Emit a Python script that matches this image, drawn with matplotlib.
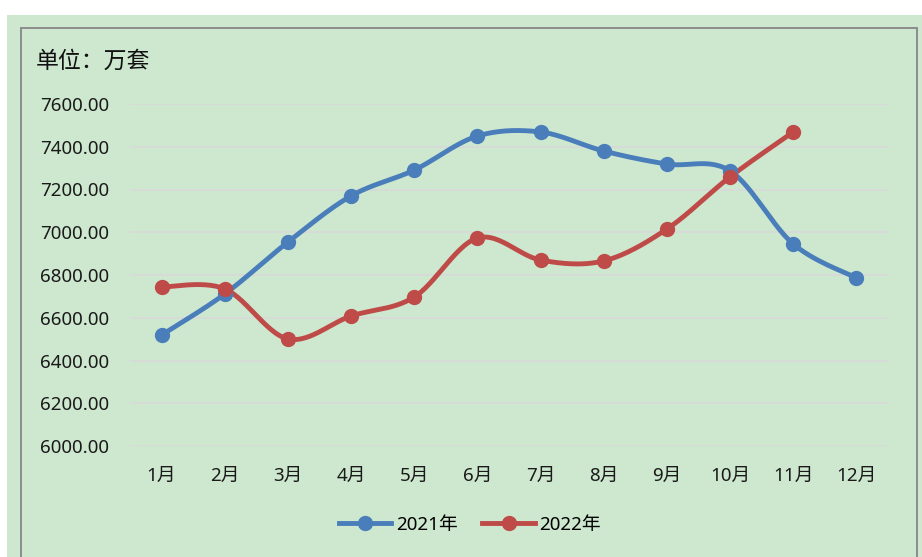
import matplotlib
matplotlib.use("Agg")
import matplotlib.pyplot as plt
import numpy as np
from matplotlib.patches import Rectangle

FAM = ['Noto Sans', 'Noto Sans CJK SC', 'DejaVu Sans']
plt.rcParams['font.family'] = FAM

months = ['1月', '2月', '3月', '4月', '5月', '6月', '7月', '8月', '9月', '10月', '11月', '12月']
s2021 = [6519, 6711, 6954, 7170, 7291, 7450, 7469, 7380, 7319, 7287, 6945, 6786]
s2022 = [6744, 6735, 6501, 6608, 6697, 6973, 6870, 6866, 7015, 7259, 7469]
yticks = [6000, 6200, 6400, 6600, 6800, 7000, 7200, 7400, 7600]

c2021 = '#4a7ebb'
c2022 = '#be4b48'
bg = '#cde8cf'


def smooth(xs, ys, n=30):
    # Excel-like smoothing: cubic Bezier segments with Catmull-Rom control points
    xs = np.asarray(xs, float)
    ys = np.asarray(ys, float)
    px, py = [], []
    m = len(xs)
    for i in range(m - 1):
        x0, y0 = (xs[i - 1], ys[i - 1]) if i > 0 else (xs[i], ys[i])
        x1, y1 = xs[i], ys[i]
        x2, y2 = xs[i + 1], ys[i + 1]
        x3, y3 = (xs[i + 2], ys[i + 2]) if i + 2 < m else (xs[i + 1], ys[i + 1])
        c1x, c1y = x1 + (x2 - x0) / 6, y1 + (y2 - y0) / 6
        c2x, c2y = x2 - (x3 - x1) / 6, y2 - (y3 - y1) / 6
        t = np.linspace(0, 1, n)
        bx = (1 - t) ** 3 * x1 + 3 * (1 - t) ** 2 * t * c1x + 3 * (1 - t) * t ** 2 * c2x + t ** 3 * x2
        by = (1 - t) ** 3 * y1 + 3 * (1 - t) ** 2 * t * c1y + 3 * (1 - t) * t ** 2 * c2y + t ** 3 * y2
        px.extend(bx)
        py.extend(by)
    return px, py


fig = plt.figure(figsize=(9.22, 5.57), dpi=100)
fig.patch.set_facecolor('white')
W, H = 922, 557
fig.patches.append(Rectangle((7 / W, 0), 1, 1 - 15 / H, transform=fig.transFigure,
                             facecolor=bg, edgecolor='none', zorder=-2))
fig.patches.append(Rectangle((21 / W, -0.05), (917 - 21) / W, 1 - 28 / H + 0.05,
                             transform=fig.transFigure, facecolor='none',
                             edgecolor='#8c8c8c', linewidth=1.4, zorder=-1))

ax = fig.add_axes([130 / W, 1 - 446 / H, (888 - 130) / W, (446 - 104) / H])
ax.set_zorder(2)
ax.set_facecolor('none')

LW, MS = 3.5, 10
x21 = np.arange(len(s2021))
x22 = np.arange(len(s2022))
sx, sy = smooth(x21, s2021)
ax.plot(sx, sy, color=c2021, lw=LW, solid_capstyle='round', zorder=3)
ax.plot(x21, s2021, 'o', color=c2021, ms=MS, zorder=4)
sx, sy = smooth(x22, s2022)
ax.plot(sx, sy, color=c2022, lw=LW, solid_capstyle='round', zorder=3)
ax.plot(x22, s2022, 'o', color=c2022, ms=MS, zorder=4)

ax.set_xlim(-0.5, 11.5)
ax.set_ylim(6000, 7600)
ax.set_yticks(yticks)
ax.set_yticklabels([f'{v:.2f}' for v in yticks])
ax.set_xticks(x21)
ax.set_xticklabels(months)
ax.grid(axis='y', color='#d9d9d9', lw=1.2)
ax.set_axisbelow(True)
for s in ax.spines.values():
    s.set_visible(False)
ax.tick_params(length=0, labelsize=13.5, colors='#1a1a1a')
ax.tick_params(axis='y', pad=15)
ax.tick_params(axis='x', pad=15)

fig.text(36 / W, 1 - 61 / H, '单位：万套', fontsize=16.5, color='#111111', va='center', ha='left',
         family=['Noto Sans CJK SC', 'DejaVu Sans'])

h1, = ax.plot([], [], '-o', color=c2021, lw=LW, ms=MS)
h2, = ax.plot([], [], '-o', color=c2022, lw=LW, ms=MS)
fig.legend([h1, h2], ['2021年', '2022年'], loc='center', bbox_to_anchor=(470 / W, 1 - 525 / H),
           ncol=2, frameon=False, fontsize=13.5, handlelength=2.8, columnspacing=1.3,
           handletextpad=0.25)

fig.savefig('out.png', dpi=100, facecolor='white')
